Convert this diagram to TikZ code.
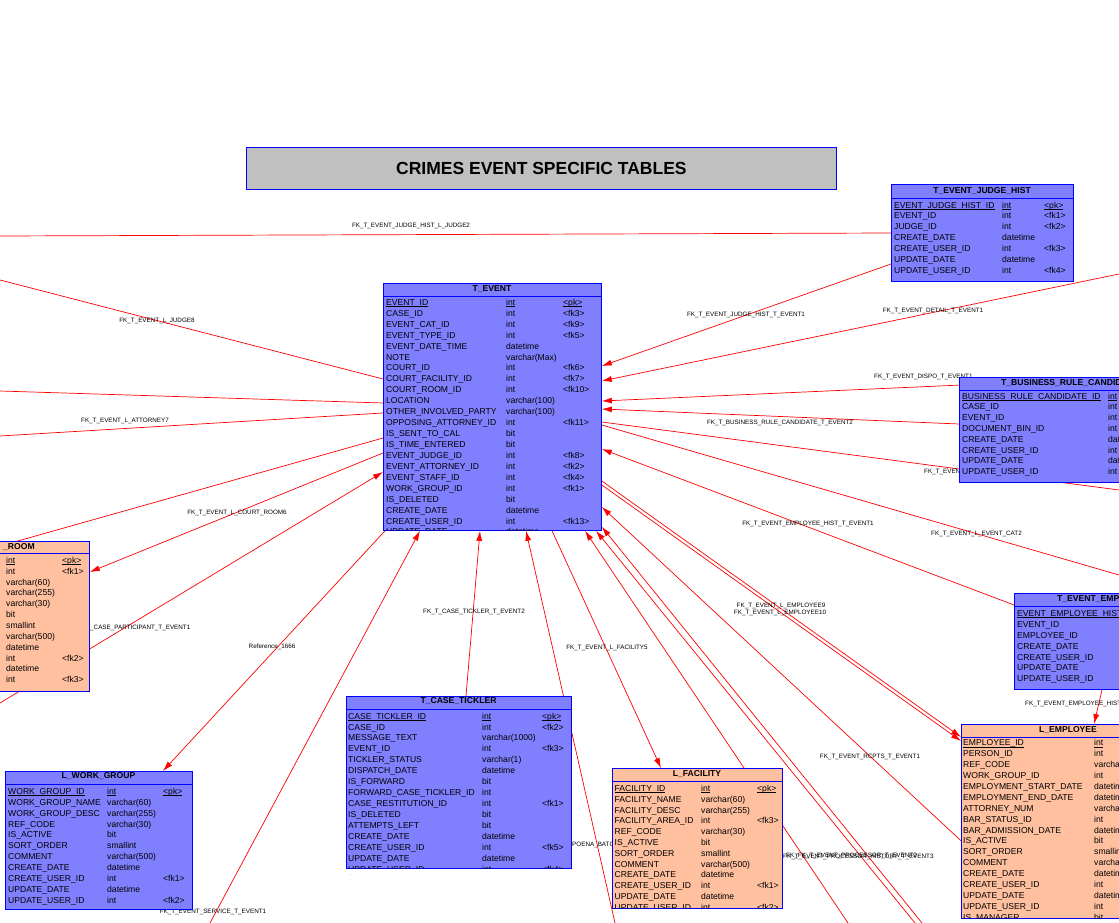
\documentclass[tikz,border=0pt]{standalone}
\usepackage{fontspec}
\setmainfont{Liberation Sans}
\usetikzlibrary{arrows.meta}

\definecolor{tblblue}{RGB}{128,128,255}
\definecolor{tblsalmon}{RGB}{255,192,160}
\definecolor{tblborder}{RGB}{0,0,255}
\definecolor{fkred}{RGB}{255,0,0}
\definecolor{titlegray}{RGB}{192,192,192}

\pgfdeclarelayer{links}
\pgfsetlayers{links,main}

\tikzset{
  tbl/.style={draw=tblborder, line width=0.8pt, inner sep=0pt, anchor=north west},
  tblhead/.style={inner sep=0pt, font=\bfseries\fontsize{8.6}{9}\selectfont},
  fld/.style={anchor=west, inner sep=0pt, text height=6.2pt, text depth=0pt, font=\fontsize{8.6}{9}\selectfont},
  fk/.style={draw=fkred, line width=0.7pt},
  fkarrow/.style={fk, -{Latex[length=10pt,width=6pt]}},
  fklabel/.style={inner sep=0pt, font=\fontsize{6.3}{7}\selectfont},
  moredots/.style={inner sep=0pt, text=gray!70, font=\fontsize{4}{4}\selectfont}
}

\newcommand{\pkline}[1]{\setbox0\hbox{#1}\rlap{\rule[-1.3pt]{\wd0}{0.6pt}}\box0}
\newcommand{\pkfmt}[2]{\ifnum#1=1 \pkline{#2}\else #2\fi}

% table box: name, fill, left, top, width, height, header height
\newcommand{\ertable}[7]{%
  \node[tbl, fill=#2, minimum width=#5pt, minimum height=#6pt] (#1) at (#3,#4) {};
  \draw[tblborder, line width=0.8pt] ([yshift=-#7pt]#1.north west) -- ([yshift=-#7pt]#1.north east);
}

% table columns: name, first row, pitch, name x, type x, key x, rows
\newcommand{\errows}[7]{%
  \begin{scope}
    \clip (#1.north west) rectangle (#1.south east);
    \foreach \fname/\ftype/\fkey [count=\i] in {#7} {
      \pgfmathsetmacro\rowy{#2+(\i-1)*#3}
      \node[fld] (#1-n\i) at (#4,\rowy) {\pkfmt{\i}{\fname}};
      \node[fld] (#1-t\i) at (#5,\rowy) {\pkfmt{\i}{\ftype}};
      \node[fld] (#1-k\i) at (#6,\rowy) {\pkfmt{\i}{\fkey}};
    }
  \end{scope}
}

\begin{document}
\begin{tikzpicture}[x=1pt,y=-1pt]
	\useasboundingbox (0,0) rectangle (1119,923);
	\clip (0,0) rectangle (1119,923);

	\node[draw=tblborder, line width=0.8pt, fill=titlegray, minimum width=590pt, minimum height=42pt, anchor=north west, font=\bfseries\fontsize{17.5}{20}\selectfont] (title) at (246,147) {CRIMES EVENT SPECIFIC TABLES};

	\ertable{tevent}{tblblue}{383}{283}{218}{247}{13}
	\node[tblhead] (tevent-title) at (492,289.5) {T\_EVENT};
	\errows{tevent}{302.3}{10.93}{386}{506}{563}{EVENT\_ID/int/<pk>, CASE\_ID/int/<fk3>, EVENT\_CAT\_ID/int/<fk9>, EVENT\_TYPE\_ID/int/<fk5>, EVENT\_DATE\_TIME/datetime/{}, NOTE/varchar(Max)/{}, COURT\_ID/int/<fk6>, COURT\_FACILITY\_ID/int/<fk7>, COURT\_ROOM\_ID/int/<fk10>, LOCATION/varchar(100)/{}, OTHER\_INVOLVED\_PARTY/varchar(100)/{}, OPPOSING\_ATTORNEY\_ID/int/<fk11>, IS\_SENT\_TO\_CAL/bit/{}, IS\_TIME\_ENTERED/bit/{}, EVENT\_JUDGE\_ID/int/<fk8>, EVENT\_ATTORNEY\_ID/int/<fk2>, EVENT\_STAFF\_ID/int/<fk4>, WORK\_GROUP\_ID/int/<fk1>, IS\_DELETED/bit/{}, CREATE\_DATE/datetime/{}, CREATE\_USER\_ID/int/<fk13>, UPDATE\_DATE/datetime/{}}
	\node[moredots] (tevent-more) at (389,538) {....};

	\ertable{judgehist}{tblblue}{891}{184}{182}{97}{14}
	\node[tblhead] (judgehist-title) at (982,191) {T\_EVENT\_JUDGE\_HIST};
	\errows{judgehist}{205}{10.85}{894}{1002}{1044}{EVENT\_JUDGE\_HIST\_ID/int/<pk>, EVENT\_ID/int/<fk1>, JUDGE\_ID/int/<fk2>, CREATE\_DATE/datetime/{}, CREATE\_USER\_ID/int/<fk3>, UPDATE\_DATE/datetime/{}, UPDATE\_USER\_ID/int/<fk4>}

	\ertable{brc}{tblblue}{959}{377}{222}{105}{13}
	\node[tblhead, anchor=west] (brc-title) at (1001,383.5) {T\_BUSINESS\_RULE\_CANDIDATE};
	\errows{brc}{396}{10.8}{962}{1108}{1160}{BUSINESS\_RULE\_CANDIDATE\_ID/int/{}, CASE\_ID/int/{}, EVENT\_ID/int/{}, DOCUMENT\_BIN\_ID/int/{}, CREATE\_DATE/datetime/{}, CREATE\_USER\_ID/int/{}, UPDATE\_DATE/datetime/{}, UPDATE\_USER\_ID/int/{}}

	\ertable{room}{tblsalmon}{-100}{541}{189}{150}{12.5}
	\node[tblhead, anchor=west] (room-title) at (3,547) {\_ROOM};
	\errows{room}{560.3}{10.85}{-90}{6}{62}{{}/int/<pk>, {}/int/<fk1>, {}/varchar(60)/{}, {}/varchar(255)/{}, {}/varchar(30)/{}, {}/bit/{}, {}/smallint/{}, {}/varchar(500)/{}, {}/datetime/{}, {}/int/<fk2>, {}/datetime/{}, {}/int/<fk3>}

	\ertable{workgroup}{tblblue}{5}{771}{187}{138}{13}
	\node[tblhead] (workgroup-title) at (98.5,776) {L\_WORK\_GROUP};
	\errows{workgroup}{791.3}{10.87}{8}{107}{163}{WORK\_GROUP\_ID/int/<pk>, WORK\_GROUP\_NAME/varchar(60)/{}, WORK\_GROUP\_DESC/varchar(255)/{}, REF\_CODE/varchar(30)/{}, IS\_ACTIVE/bit/{}, SORT\_ORDER/smallint/{}, COMMENT/varchar(500)/{}, CREATE\_DATE/datetime/{}, CREATE\_USER\_ID/int/<fk1>, UPDATE\_DATE/datetime/{}, UPDATE\_USER\_ID/int/<fk2>}

	\ertable{tickler}{tblblue}{346}{696}{225}{172}{13.5}
	\node[tblhead] (tickler-title) at (458.5,701.5) {T\_CASE\_TICKLER};
	\errows{tickler}{716}{10.93}{348}{482}{542}{CASE\_TICKLER\_ID/int/<pk>, CASE\_ID/int/<fk2>, MESSAGE\_TEXT/varchar(1000)/{}, EVENT\_ID/int/<fk3>, TICKLER\_STATUS/varchar(1)/{}, DISPATCH\_DATE/datetime/{}, IS\_FORWARD/bit/{}, FORWARD\_CASE\_TICKLER\_ID/int/{}, CASE\_RESTITUTION\_ID/int/<fk1>, IS\_DELETED/bit/{}, ATTEMPTS\_LEFT/bit/{}, CREATE\_DATE/datetime/{}, CREATE\_USER\_ID/int/<fk5>, UPDATE\_DATE/datetime/{}, UPDATE\_USER\_ID/int/<fk4>}
	\node[moredots] (tickler-more) at (351,875) {....};

	\ertable{facility}{tblsalmon}{612}{768}{170}{140}{13}
	\node[tblhead] (facility-title) at (697,774.5) {L\_FACILITY};
	\errows{facility}{788.3}{10.8}{614.5}{701}{757}{FACILITY\_ID/int/<pk>, FACILITY\_NAME/varchar(60)/{}, FACILITY\_DESC/varchar(255)/{}, FACILITY\_AREA\_ID/int/<fk3>, REF\_CODE/varchar(30)/{}, IS\_ACTIVE/bit/{}, SORT\_ORDER/smallint/{}, COMMENT/varchar(500)/{}, CREATE\_DATE/datetime/{}, CREATE\_USER\_ID/int/<fk1>, UPDATE\_DATE/datetime/{}, UPDATE\_USER\_ID/int/<fk2>}
	\node[moredots] (facility-more) at (617,913) {....};

	\ertable{emphist}{tblblue}{1014}{593}{186}{96}{13}
	\node[tblhead, anchor=west] (emphist-title) at (1057,599) {T\_EVENT\_EMPLOYEE\_HIST};
	\errows{emphist}{613.3}{10.9}{1017}{1170}{1190}{EVENT\_EMPLOYEE\_HIST\_ID/{}/{}, EVENT\_ID/{}/{}, EMPLOYEE\_ID/{}/{}, CREATE\_DATE/{}/{}, CREATE\_USER\_ID/{}/{}, UPDATE\_DATE/{}/{}, UPDATE\_USER\_ID/{}/{}}

	\ertable{employee}{tblsalmon}{961}{724}{215}{194}{13}
	\node[tblhead] (employee-title) at (1068,730) {L\_EMPLOYEE};
	\errows{employee}{742.7}{10.9}{963}{1094}{1160}{EMPLOYEE\_ID/int/{}, PERSON\_ID/int/{}, REF\_CODE/varchar(30)/{}, WORK\_GROUP\_ID/int/{}, EMPLOYMENT\_START\_DATE/datetime/{}, EMPLOYMENT\_END\_DATE/datetime/{}, ATTORNEY\_NUM/varchar(30)/{}, BAR\_STATUS\_ID/int/{}, BAR\_ADMISSION\_DATE/datetime/{}, IS\_ACTIVE/bit/{}, SORT\_ORDER/smallint/{}, COMMENT/varchar(500)/{}, CREATE\_DATE/datetime/{}, CREATE\_USER\_ID/int/{}, UPDATE\_DATE/datetime/{}, UPDATE\_USER\_ID/int/{}, IS\_MANAGER/bit/{}}

	\begin{pgfonlayer}{links}
	\fill[white] (0,0) rectangle (1119,923);
	\clip (0,0) rectangle (1119,923);
	\coordinate (ljudge-a) at (0,236);
	\coordinate (ljudge-b) at (0,280);
	\coordinate (left-c) at (0,391);
	\coordinate (lattorney) at (0,436);
	\coordinate (left-e) at (0,546);
	\coordinate (casepart) at (0,703);
	\coordinate (service) at (210,923);
	\coordinate (subpoena) at (615,923);
	\coordinate (lower-a) at (848,923);
	\coordinate (proc-a) at (915,923);
	\coordinate (proc-b) at (922,923);
	\coordinate (rcpts) at (1000,877);
	\coordinate (detail) at (1119,274);
	\coordinate (dispo) at (1119,378);
	\coordinate (right-a) at (1119,490);
	\coordinate (eventcat) at (1119,575);

	\draw[fk] (ljudge-a) -- ([yshift=-49pt]judgehist.north west);
	\draw[fk] ([yshift=-96pt]tevent.north west) -- (ljudge-b);
	\draw[fk] ([yshift=-120pt]tevent.north west) -- (left-c);
	\draw[fk] ([yshift=-130pt]tevent.north west) -- (lattorney);
	\draw[fk] ([yshift=-155pt]tevent.north west) -- (left-e);
	\draw[fkarrow] ([yshift=-170pt]tevent.north west) -- ([yshift=-31pt]room.north east);
	\draw[fkarrow] (casepart) -- ([yshift=-189pt]tevent.north west);
	\draw[fkarrow] ([xshift=2pt]tevent.south west) -- ([xshift=158pt]workgroup.north west);
	\draw[fkarrow] (service) -- ([xshift=37pt]tevent.south west);
	\draw[fkarrow] ([xshift=120pt]tickler.north west) -- ([xshift=97pt]tevent.south west);
	\draw[fkarrow] (subpoena) -- ([xshift=143pt]tevent.south west);
	\draw[fkarrow] ([xshift=169pt]tevent.south west) -- ([xshift=49pt]facility.north west);
	\draw[fkarrow] (lower-a) -- ([xshift=202pt]tevent.south west);
	\draw[fkarrow] (proc-a) -- ([xshift=213pt]tevent.south west);
	\draw[fkarrow] (proc-b) -- ([yshift=4pt]tevent.south east);
	\draw[fkarrow] (rcpts) -- ([yshift=-224pt]tevent.north east);
	\draw[fkarrow] ([yshift=-198pt]tevent.north east) -- ([yshift=-13pt]employee.north west);
	\draw[fkarrow] ([yshift=-202pt]tevent.north east) -- ([yshift=-17pt]employee.north west);
	\draw[fkarrow] ([yshift=-12pt]emphist.north west) -- ([yshift=-166pt]tevent.north east);
	\draw[fk] ([yshift=-142pt]tevent.north east) -- (eventcat);
	\draw[fk] ([yshift=-139pt]tevent.north east) -- (right-a);
	\draw[fkarrow] ([yshift=-47pt]brc.north west) -- ([yshift=-126pt]tevent.north east);
	\draw[fkarrow] (dispo) -- ([yshift=-118pt]tevent.north east);
	\draw[fkarrow] (detail) -- ([yshift=-98pt]tevent.north east);
	\draw[fkarrow] ([yshift=-80pt]judgehist.north west) -- ([yshift=-83pt]tevent.north east);
	\draw[fkarrow] ([xshift=88pt]emphist.south west) -- ([xshift=133pt]employee.north west);

	\node[fklabel] (lbl-jhjudge) at (411,226) {FK\_T\_EVENT\_JUDGE\_HIST\_L\_JUDGE2};
	\node[fklabel] (lbl-judge) at (157,321) {FK\_T\_EVENT\_L\_JUDGE8};
	\node[fklabel] (lbl-attorney) at (125,421) {FK\_T\_EVENT\_L\_ATTORNEY7};
	\node[fklabel] (lbl-courtroom) at (237,513) {FK\_T\_EVENT\_L\_COURT\_ROOM6};
	\node[fklabel, anchor=west] (lbl-casepart) at (90,628) {\_CASE\_PARTICIPANT\_T\_EVENT1};
	\node[fklabel] (lbl-ref) at (272,647) {Reference\_1666};
	\node[fklabel] (lbl-tickler) at (474,612) {FK\_T\_CASE\_TICKLER\_T\_EVENT2};
	\node[fklabel] (lbl-facility) at (607,648) {FK\_T\_EVENT\_L\_FACILITY5};
	\node[fklabel] (lbl-emp9) at (781,606) {FK\_T\_EVENT\_L\_EMPLOYEE9};
	\node[fklabel] (lbl-emp10) at (780,613) {FK\_T\_EVENT\_L\_EMPLOYEE10};
	\node[fklabel] (lbl-rcpts) at (870,757) {FK\_T\_EVENT\_RCPTS\_T\_EVENT1};
	\node[fklabel] (lbl-jhevent) at (746,315) {FK\_T\_EVENT\_JUDGE\_HIST\_T\_EVENT1};
	\node[fklabel] (lbl-detail) at (933,311) {FK\_T\_EVENT\_DETAIL\_T\_EVENT1};
	\node[fklabel, anchor=west] (lbl-dispo) at (874,377) {FK\_T\_EVENT\_DISPO\_T\_EVENT1};
	\node[fklabel] (lbl-brc) at (780,423) {FK\_T\_BUSINESS\_RULE\_CANDIDATE\_T\_EVENT2};
	\node[fklabel, anchor=west] (lbl-right) at (924,472) {FK\_T\_EVENT};
	\node[fklabel, anchor=west] (lbl-eventcat) at (931,534) {FK\_T\_EVENT\_L\_EVENT\_CAT2};
	\node[fklabel] (lbl-emphist) at (808,524) {FK\_T\_EVENT\_EMPLOYEE\_HIST\_T\_EVENT1};
	\node[fklabel, anchor=west] (lbl-emphist-emp) at (1025,704) {FK\_T\_EVENT\_EMPLOYEE\_HIST};
	\node[fklabel] (lbl-service) at (213,912) {FK\_T\_EVENT\_SERVICE\_T\_EVENT1};
	\node[fklabel, anchor=west] (lbl-subpoena) at (572,845) {POENA\_BATCH};
	\node[fklabel, anchor=west] (lbl-proc-a) at (783,857) {FK\_T\_EVENT\_PROCESSOR\_HISTORY\_T\_EVENT3};
	\node[fklabel, anchor=west] (lbl-proc-b) at (786,856) {FK\_FK\_T\_EVENT\_PROCESSOR\_T\_EVENT2};
	\end{pgfonlayer}
\end{tikzpicture}
\end{document}
